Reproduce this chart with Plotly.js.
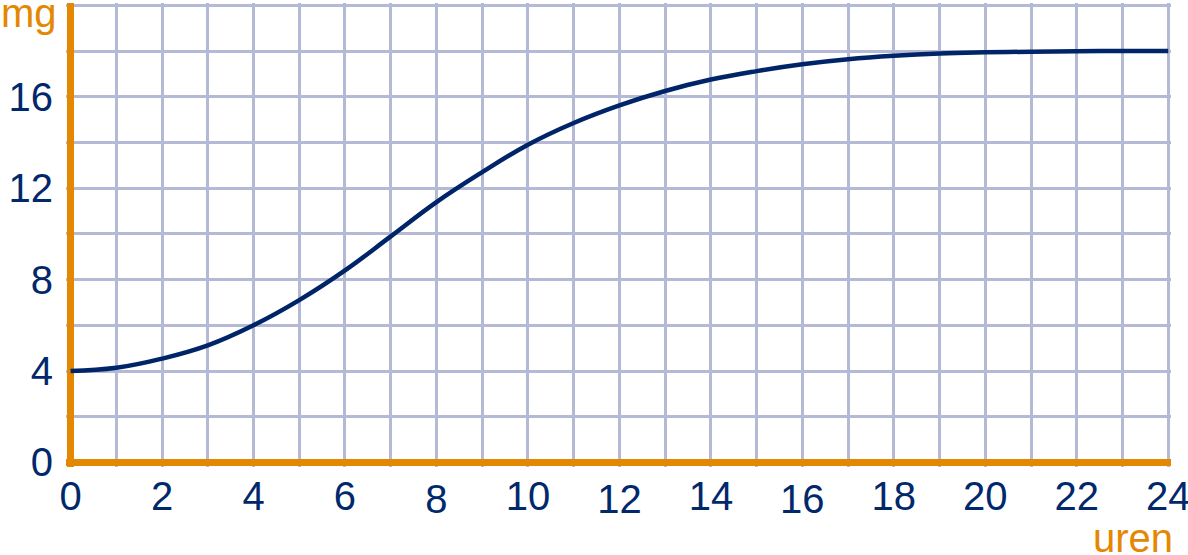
<!DOCTYPE html>
<html>
<head>
<meta charset="utf-8">
<script src="https://cdn.plot.ly/plotly-3.0.1.min.js"></script>
<style>html,body{margin:0;padding:0;background:#fff;}#chart{width:1188px;height:555px;}</style>
</head>
<body>
<div id="chart"></div>
<script>
// Data
const hours = [0,1,2,3,4,5,6,7,8,9,10,11,12,13,14,15,16,17,18,19,20,21,22,23,24];
const mg    = [4.0,4.14,4.54,5.12,6.0,7.1,8.4,9.89,11.39,12.7,13.9,14.85,15.62,16.25,16.75,17.12,17.42,17.64,17.79,17.89,17.94,17.97,17.99,18.0,18.0];

const xGridVals = [0,1,2,3,4,5,6,7,8,9,10,11,12,13,14,15,16,17,18,19,20,21,22,23,24];
const xLabelsMain = ['0','','2','','4','','6','','','','10','','','','14','','','','18','','20','','22','','24'];
const xLowVals = [8,12,16];
const xLowLabels = ['8','12','16'];
const yGridVals = [0,2,4,6,8,10,12,14,16,18,20];
const yLabels = ['0','','4','','8','','12','','16','',''];

const navy = '#00286b';
const orange = '#e38800';
const grid = '#b4b9d6';
const fontFam = '"Liberation Sans", Arial, sans-serif';

const traces = [
  {x: hours, y: mg, type: 'scatter', mode: 'lines',
   line: {color: '#002468', width: 4.5, shape: 'spline', smoothing: 1.2},
   hoverinfo: 'skip', showlegend: false},
  {x: [xLowVals[0]], y: [mg[0]], xaxis: 'x2', type: 'scatter', mode: 'markers',
   marker: {opacity: 0}, hoverinfo: 'skip', showlegend: false}
];

const xRange = [-0.1, 24.06];
const layout = {
  width: 1188, height: 555,
  margin: {l: 66, r: 17, t: 3, b: 88},
  paper_bgcolor: '#fff', plot_bgcolor: '#fff',
  font: {family: fontFam, size: 40, color: navy},
  xaxis: {
    range: xRange, tickmode: 'array', tickvals: xGridVals, ticktext: xLabelsMain,
    showgrid: true, gridcolor: grid, gridwidth: 3,
    zeroline: true, zerolinecolor: orange, zerolinewidth: 7,
    showline: false, ticks: '', ticklabelstandoff: 2, ticklabeloverflow: 'allow',
    tickfont: {family: fontFam, size: 40, color: navy}, fixedrange: true
  },
  xaxis2: {
    overlaying: 'x', side: 'bottom', range: xRange, tickmode: 'array',
    tickvals: xLowVals, ticktext: xLowLabels, showgrid: false, zeroline: false,
    showline: false, ticks: '', ticklabelstandoff: 5, ticklabeloverflow: 'allow',
    tickfont: {family: fontFam, size: 40, color: navy}, fixedrange: true
  },
  yaxis: {
    range: [-0.2, 20.1], tickmode: 'array', tickvals: yGridVals, ticktext: yLabels,
    showgrid: true, gridcolor: grid, gridwidth: 3,
    zeroline: true, zerolinecolor: orange, zerolinewidth: 7,
    showline: false, ticks: '', ticklabelstandoff: 12,
    tickfont: {family: fontFam, size: 40, color: navy}, fixedrange: true
  },
  annotations: [
    {text: 'mg', xref: 'paper', yref: 'paper', x: 0, y: 1, xanchor: 'left', yanchor: 'top',
     xshift: -67, yshift: 14, showarrow: false, font: {family: fontFam, size: 40, color: orange}},
    {text: 'uren', xref: 'paper', yref: 'paper', x: 1, y: 0, xanchor: 'right', yanchor: 'top',
     xshift: 4, yshift: -47, showarrow: false, font: {family: fontFam, size: 40, color: orange}}
  ]
};

Plotly.newPlot('chart', traces, layout, {staticPlot: true, displayModeBar: false});
</script>
</body>
</html>
